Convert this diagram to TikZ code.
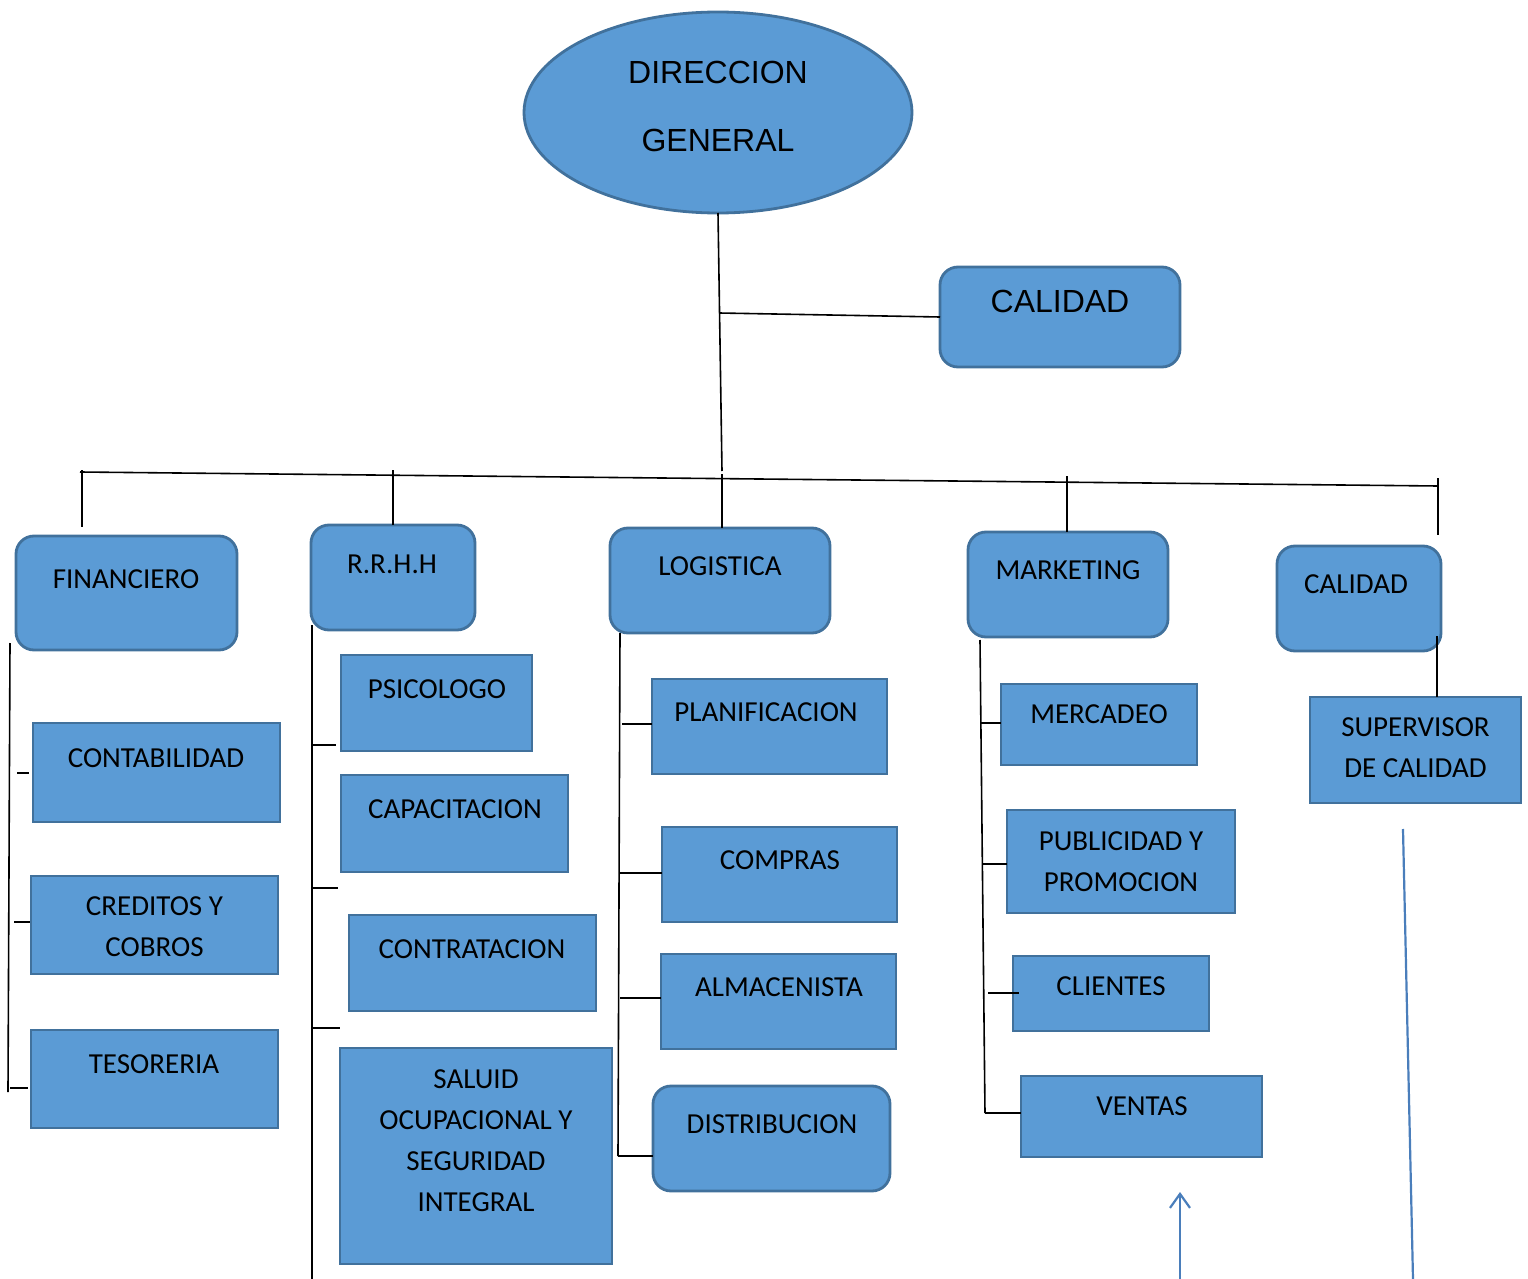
\documentclass[tikz,border=0pt]{standalone}
\usepackage{fontspec}
\setmainfont{Carlito}
\newfontfamily\arialf{Liberation Sans}
\usetikzlibrary{shapes.geometric,arrows.meta}
\definecolor{boxfill}{HTML}{5B9BD5}
\definecolor{boxline}{HTML}{41719C}
\definecolor{blueln}{HTML}{4A7EBB}
\newcommand{\mybox}[6]{\node[#2, minimum width={(#5-#3)*0.5pt}, minimum height={(#6-#4)*0.5pt}] (#1) at ({(#3+#5)/2},{(#4+#6)/2}) {};}
\begin{document}
\begin{tikzpicture}[x=0.5pt,y=-0.5pt,
  sq/.style={draw=boxline, fill=boxfill, line width=1.4pt, inner sep=0pt, outer sep=0pt},
  rd/.style={sq, rounded corners=9pt},
  lbl/.style={font=\fontsize{14.5}{20.5}\selectfont, align=center, inner sep=0pt},
  big/.style={font=\arialf\fontsize{16}{34}\selectfont, align=center, inner sep=0pt},
  conn/.style={line width=0.8pt, black},
  bconn/.style={line width=1.1pt, blueln}]
\useasboundingbox (0,0) rectangle (1528,1279);

% ---------- top ----------
\node[ellipse, sq, minimum width=194pt, minimum height=100.5pt] (dg) at (718,112.5) {};
\node[big] (dgt) at (718,106) {DIRECCION\\GENERAL};
\mybox{cal1}{rd}{940}{267}{1180}{367}
\node[big] (cal1t) at (1060,301) {CALIDAD};

% ---------- departments ----------
\mybox{fin}{rd}{16}{536}{237}{650}
\node[lbl] (fint) at (126,579) {FINANCIERO};
\mybox{rrhh}{rd}{311}{525}{475}{630}
\node[lbl] (rrhht) at (392,564) {R.R.H.H};
\mybox{log}{rd}{610}{528}{830}{633}
\node[lbl] (logt) at (720,566) {LOGISTICA};
\mybox{mkt}{rd}{968}{532}{1168}{637}
\node[lbl] (mktt) at (1068,570) {MARKETING};
\mybox{cal2}{rd}{1277}{546}{1441}{651}
\node[lbl] (cal2t) at (1356,584) {CALIDAD};

% ---------- financiero ----------
\mybox{cont}{sq}{33}{723}{280}{822}
\node[lbl] (contt) at (156,758) {CONTABILIDAD};
\mybox{cred}{sq}{31}{876}{278}{974}
\node[lbl] (credt) at (154.5,927) {CREDITOS Y\\COBROS};
\mybox{teso}{sq}{31}{1030}{278}{1128}
\node[lbl] (tesot) at (154,1064) {TESORERIA};

% ---------- rrhh ----------
\mybox{psic}{sq}{341}{655}{532}{751}
\node[lbl] (psict) at (437,689) {PSICOLOGO};
\mybox{capa}{sq}{341}{775}{568}{872}
\node[lbl] (capat) at (455,809) {CAPACITACION};
\mybox{contr}{sq}{349}{915}{596}{1011}
\node[lbl] (contrt) at (472,949) {CONTRATACION};
\mybox{salud}{sq}{340}{1048}{612}{1264}
\node[lbl] (saludt) at (476,1141) {SALUID\\OCUPACIONAL Y\\SEGURIDAD\\INTEGRAL};

% ---------- logistica ----------
\mybox{plan}{sq}{652}{679}{887}{774}
\node[lbl] (plant) at (766,712) {PLANIFICACION};
\mybox{comp}{sq}{662}{827}{897}{922}
\node[lbl] (compt) at (780,860) {COMPRAS};
\mybox{alma}{sq}{661}{954}{896}{1049}
\node[lbl] (almat) at (779,987) {ALMACENISTA};
\mybox{dist}{rd}{653}{1086}{890}{1191}
\node[lbl] (distt) at (772,1124) {DISTRIBUCION};

% ---------- marketing ----------
\mybox{merc}{sq}{1001}{684}{1197}{765}
\node[lbl] (merct) at (1099,714.5) {MERCADEO};
\mybox{publ}{sq}{1007}{810}{1235}{913}
\node[lbl] (publt) at (1121,861.5) {PUBLICIDAD Y\\PROMOCION};
\mybox{clie}{sq}{1013}{956}{1209}{1031}
\node[lbl] (cliet) at (1111,986.5) {CLIENTES};
\mybox{vent}{sq}{1021}{1076}{1262}{1157}
\node[lbl] (ventt) at (1142,1106.5) {VENTAS};

% ---------- calidad ----------
\mybox{sup}{sq}{1310}{697}{1521}{803}
\node[lbl] (supt) at (1415.5,748) {SUPERVISOR\\DE CALIDAD};

% ---------- connectors ----------
\coordinate (trunkEnd) at (722,471);
\draw[conn] (dg.south) -- (trunkEnd);
\coordinate (calJ) at (719,313);
\draw[conn] (calJ) -- (cal1.west);

\coordinate (busL) at (80,472);
\coordinate (busR) at (1438,486);
\draw[conn] (busL) -- (busR);
\coordinate (finA) at (82,470); \coordinate (finB) at (82,527);
\draw[conn] (finA) -- (finB);
\coordinate (rrA) at (393,470);
\draw[conn] (rrA) -- (rrA |- rrhh.north);
\coordinate (logA) at (722,474);
\draw[conn] (logA) -- (logA |- log.north);
\coordinate (mkA) at (1067,476);
\draw[conn] (mkA) -- (mkA |- mkt.north);
\coordinate (caA) at (1438,478); \coordinate (caB) at (1438,535);
\draw[conn] (caA) -- (caB);

% financiero branch
\coordinate (fvA) at (10,643); \coordinate (fvB) at (8,1092);
\draw[conn] (fvA) -- (fvB);
\coordinate (f1a) at (17,773); \coordinate (f1b) at (29,773);
\draw[conn] (f1a) -- (f1b);
\coordinate (f2a) at (14,922); \coordinate (f2b) at (30,922);
\draw[conn] (f2a) -- (f2b);
\coordinate (f3a) at (10,1088); \coordinate (f3b) at (28,1088);
\draw[conn] (f3a) -- (f3b);

% rrhh branch
\coordinate (rvA) at (312,625); \coordinate (rvB) at (312,1279);
\draw[conn] (rvA) -- (rvB);
\coordinate (r1a) at (312,745); \coordinate (r1b) at (336,745);
\draw[conn] (r1a) -- (r1b);
\coordinate (r2a) at (312,888); \coordinate (r2b) at (338,888);
\draw[conn] (r2a) -- (r2b);
\coordinate (r3a) at (312,1028); \coordinate (r3b) at (340,1028);
\draw[conn] (r3a) -- (r3b);

% logistica branch
\coordinate (lvA) at (620,633); \coordinate (lvB) at (618,1156);
\draw[conn] (lvA) -- (lvB);
\coordinate (l1) at (622,724);
\draw[conn] (l1) -- (plan.west |- l1);
\coordinate (l2) at (620,873);
\draw[conn] (l2) -- (comp.west |- l2);
\coordinate (l3) at (620,998);
\draw[conn] (l3) -- (alma.west |- l3);
\coordinate (l4) at (618,1156);
\draw[conn] (l4) -- (dist.west |- l4);

% marketing branch
\coordinate (mvA) at (980,640); \coordinate (mvB) at (985,1113);
\draw[conn] (mvA) -- (mvB);
\coordinate (m1) at (980,723);
\draw[conn] (m1) -- (merc.west |- m1);
\coordinate (m2) at (983,864);
\draw[conn] (m2) -- (publ.west |- m2);
\coordinate (m3a) at (988,993); \coordinate (m3b) at (1019,993);
\draw[conn] (m3a) -- (m3b);
\coordinate (m4) at (985,1113);
\draw[conn] (m4) -- (vent.west |- m4);

% calidad branch
\coordinate (cvA) at (1437,636);
\draw[conn] (cvA) -- (cvA |- sup.north);

% blue lines
\coordinate (blA) at (1403,829); \coordinate (blB) at (1413,1279);
\draw[bconn] (blA) -- (blB);
\coordinate (arA) at (1180,1279); \coordinate (arB) at (1180,1192);
\draw[bconn, -{Straight Barb[length=7pt,width=10pt]}] (arA) -- (arB);
\end{tikzpicture}
\end{document}
